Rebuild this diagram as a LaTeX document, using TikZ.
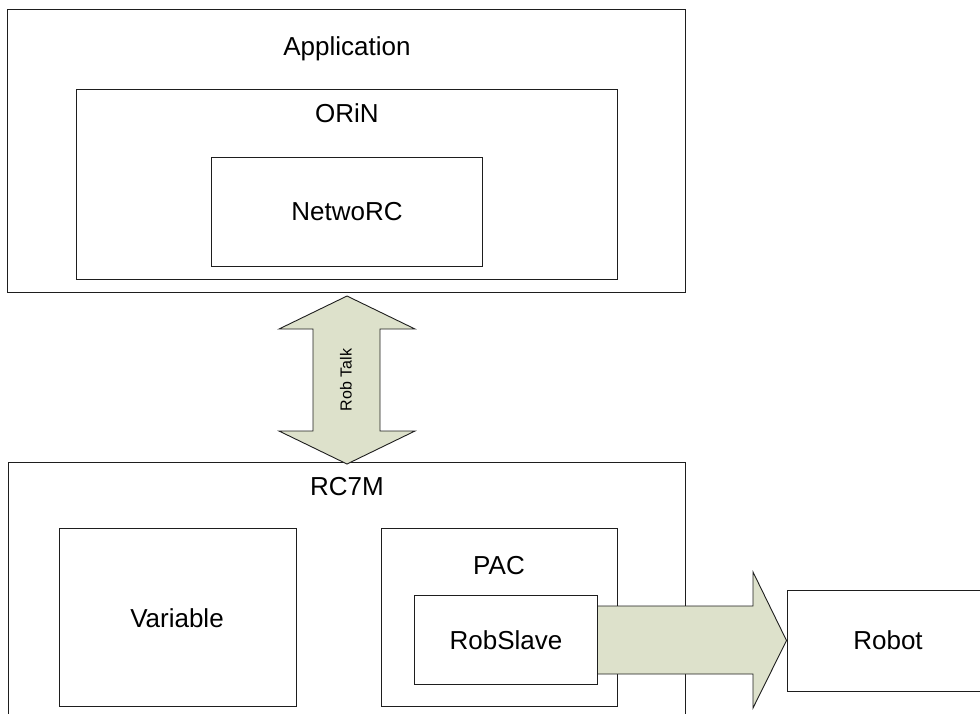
\documentclass[tikz,border=0pt]{standalone}
\usepackage{fontspec}
\setmainfont{Liberation Sans}
\definecolor{arrowfill}{RGB}{221,225,203}
\definecolor{boxline}{RGB}{30,30,30}
\begin{document}
\begin{tikzpicture}[x=1pt,y=-1pt,
  box/.style={draw=boxline,line width=1pt,fill=white,inner sep=0pt,rectangle},
  lbl/.style={font=\fontsize{26}{30}\selectfont,anchor=base,inner sep=0pt},
  blockarrow/.style={draw=boxline,line width=0.9pt,fill=arrowfill,line join=miter}]
\useasboundingbox (0,0) rectangle (980,713);
% top group
\node[box,minimum width=678pt,minimum height=283pt] (app) at (346.5,150.5) {};
\node[box,minimum width=541pt,minimum height=190pt] (orin) at (346.5,184) {};
\node[box,minimum width=271pt,minimum height=109pt] (netwo) at (346.5,211.5) {};
\node[lbl] (tapp) at (347,55) {Application};
\node[lbl] (torin) at (347,122) {ORiN};
\node[lbl] (tnet) at (347,220) {NetwoRC};
% bottom group
\node[box,minimum width=677pt,minimum height=262pt] (rc) at (346.5,593) {};
\node[box,minimum width=237pt,minimum height=178pt] (var) at (177.5,617) {};
\node[box,minimum width=236pt,minimum height=178pt] (pac) at (499,617) {};
\node[lbl] (trc) at (347,495) {RC7M};
\node[lbl] (tvar) at (177,627) {Variable};
\node[lbl] (tpac) at (499,574) {PAC};
% robot
\node[box,minimum width=203pt,minimum height=101pt] (robot) at (888.5,640.5) {};
\node[lbl] (trobot) at (888,649) {Robot};
% double arrow RobTalk
\coordinate (vt) at (347,296);
\coordinate (vb) at (347,464);
\draw[blockarrow] (vt) -- (415,329) -- (380,329) -- (380,431) -- (415,431) -- (vb)
  -- (279,431) -- (313,431) -- (313,329) -- (279,329) -- cycle;
\node[rotate=90,font=\fontsize{16}{18}\selectfont,inner sep=0pt] (trt) at (346,380) {Rob Talk};
% single arrow to robot
\coordinate (atip) at (robot.west);
\draw[blockarrow] (597,606) -- (753,606) -- (753,572) -- (atip) -- (753,708) -- (753,674) -- (597,674) -- cycle;
% RobSlave drawn on top
\node[box,minimum width=183pt,minimum height=89pt] (slave) at (505.5,639.5) {};
\node[lbl] (tslave) at (506,649) {RobSlave};
\end{tikzpicture}
\end{document}
